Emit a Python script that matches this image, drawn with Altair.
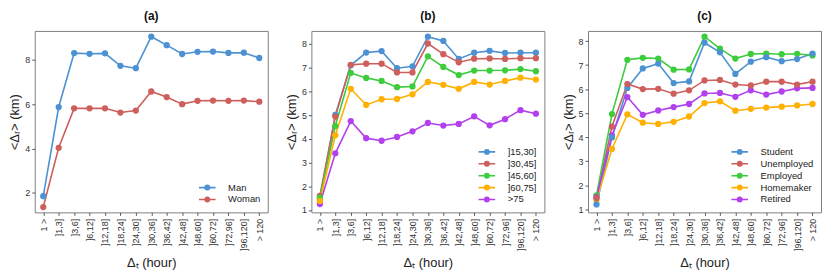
import altair as alt
import pandas as pd

CATS = ["1 >", "]1,3]", "]3,6]", "]6,12]", "]12,18]", "]18,24]", "]24,30]",
        "]30,36]", "]36,42]", "]42,48]", "]48,60]", "]60,72]", "]72,96]",
        "]96,120]", "> 120"]

# Panel (a): gender
A_SERIES = ["Man", "Woman"]
A_COLORS = ["#4c92d3", "#cd5f5c"]
man = [1.85, 5.87, 8.30, 8.27, 8.29, 7.73, 7.62, 9.04, 8.66, 8.26, 8.36, 8.37, 8.31, 8.32, 8.08]
woman = [1.36, 4.03, 5.81, 5.81, 5.81, 5.62, 5.71, 6.57, 6.32, 6.0, 6.15, 6.16, 6.15, 6.16, 6.11]

# Panel (b): age groups
B_SERIES = ["]15,30]", "]30,45]", "]45,60]", "]60,75]", ">75"]
B_COLORS = ["#4c92d3", "#cd5f5c", "#3dcc3d", "#ffb000", "#b340ee"]
age_15_30 = [1.45, 5.01, 7.10, 7.64, 7.70, 6.98, 7.06, 8.31, 8.13, 7.37, 7.63, 7.71, 7.62, 7.63, 7.63]
age_30_45 = [1.60, 4.94, 7.12, 7.17, 7.17, 6.80, 6.80, 8.02, 7.57, 7.23, 7.38, 7.39, 7.37, 7.40, 7.40]
age_45_60 = [1.52, 4.54, 6.78, 6.57, 6.44, 6.18, 6.21, 7.48, 7.03, 6.69, 6.88, 6.88, 6.89, 6.94, 6.85]
age_60_75 = [1.38, 4.15, 6.11, 5.43, 5.67, 5.68, 5.88, 6.40, 6.28, 6.11, 6.40, 6.29, 6.44, 6.58, 6.50]
age_75 = [1.25, 3.39, 4.75, 4.03, 3.92, 4.08, 4.32, 4.67, 4.56, 4.63, 4.95, 4.57, 4.83, 5.21, 5.06]

# Panel (c): occupation
C_SERIES = ["Student", "Unemployed", "Employed", "Homemaker", "Retired"]
C_COLORS = ["#4c92d3", "#cd5f5c", "#3dcc3d", "#ffb000", "#b340ee"]
student = [1.20, 3.99, 6.05, 6.86, 7.06, 6.25, 6.32, 7.93, 7.53, 6.63, 7.14, 7.33, 7.16, 7.25, 7.48]
unemployed = [1.47, 4.44, 6.21, 6.00, 6.01, 5.81, 5.95, 6.36, 6.38, 6.19, 6.15, 6.31, 6.31, 6.19, 6.31]
employed = [1.58, 4.96, 7.22, 7.30, 7.27, 6.81, 6.82, 8.18, 7.68, 7.27, 7.46, 7.48, 7.45, 7.47, 7.40]
homemaker = [1.38, 3.51, 4.95, 4.60, 4.55, 4.64, 4.86, 5.42, 5.49, 5.10, 5.18, 5.23, 5.27, 5.32, 5.38]
retired = [1.50, 4.07, 5.67, 4.93, 5.11, 5.25, 5.38, 5.82, 5.84, 5.68, 5.95, 5.77, 5.90, 6.03, 6.05]

FONT = "Liberation Sans"
# line segment with a small dot in the middle (matplotlib-style legend handle)
LEGEND_PATH = ("M-2.1,0L2.1,0M-0.55,0A0.55,0.55,0,1,1,0.55,0"
               "A0.55,0.55,0,1,1,-0.55,0Z")


def frame(series, values):
    rows = []
    for name, vals in zip(series, values):
        for c, v in zip(CATS, vals):
            rows.append({"cat": c, "series": name, "val": v})
    return pd.DataFrame(rows)


def panel(title, series, colors, values, ydomain, yticks):
    df = frame(series, values)
    return alt.Chart(df).mark_line(
        strokeWidth=1.6,
        point=alt.OverlayMarkDef(size=40, filled=True, opacity=1),
    ).encode(
        x=alt.X("cat:N", sort=CATS,
                scale=alt.Scale(type="point", padding=0.55),
                axis=alt.Axis(title="Δₜ (hour)", labelAngle=270,
                              labelAlign="right", labelBaseline="middle",
                              labelFontSize=9, titleFontSize=13,
                              titlePadding=6, tickSize=3, labelPadding=3,
                              domain=False, grid=False)),
        y=alt.Y("val:Q", scale=alt.Scale(domain=ydomain, nice=False, zero=False),
                axis=alt.Axis(title="<Δᵣ> (km)", values=yticks,
                              labelFontSize=9, titleFontSize=13,
                              titlePadding=3, tickSize=3, labelPadding=2,
                              domain=False, grid=False)),
        color=alt.Color("series:N",
                        scale=alt.Scale(domain=series, range=colors),
                        sort=series,
                        legend=alt.Legend(title=None, orient="bottom-right",
                                          symbolType=LEGEND_PATH,
                                          symbolSize=64,
                                          symbolStrokeWidth=1.6,
                                          labelFontSize=9.5,
                                          rowPadding=0, offset=7,
                                          labelOffset=16, padding=0)),
        order=alt.Order("series:N"),
    ).properties(
        width=235, height=183,
        title=alt.TitleParams(title, fontSize=12, fontWeight="bold", offset=8),
    )


pa = panel("(a)", A_SERIES, A_COLORS, [man, woman], [1.12, 9.3], [2, 4, 6, 8])
pb = panel("(b)", B_SERIES, B_COLORS,
           [age_15_30, age_30_45, age_45_60, age_60_75, age_75],
           [0.9, 8.55], [1, 2, 3, 4, 5, 6, 7, 8])
pc = panel("(c)", C_SERIES, C_COLORS,
           [student, unemployed, employed, homemaker, retired],
           [0.87, 8.42], [1, 2, 3, 4, 5, 6, 7, 8])

chart = alt.hconcat(pa, pb, pc, spacing=16).resolve_scale(
    color="independent"
).configure(
    font=FONT,
    padding=0,
).configure_view(
    stroke="#808080", strokeWidth=1,
).configure_axis(
    labelColor="#333333", titleColor="#222222", tickColor="#555555",
    labelFont=FONT, titleFont=FONT, titleFontWeight="normal",
).configure_legend(
    labelFont=FONT, labelColor="#222222",
).configure_title(
    font=FONT, color="#111111",
)

chart.save("out.html", embed_options={"renderer": "svg", "actions": False})
